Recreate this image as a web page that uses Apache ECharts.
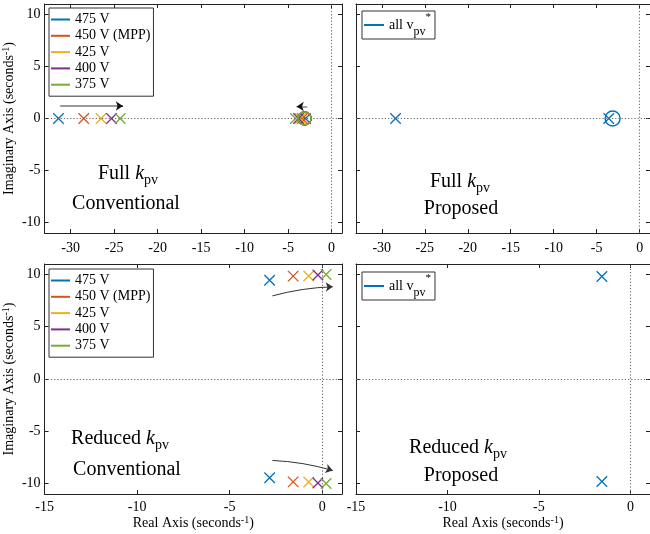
<!DOCTYPE html>
<html>
<head>
<meta charset="utf-8">
<script src="https://cdn.jsdelivr.net/npm/echarts@6/dist/echarts.min.js"></script>
<style>
  html, body { margin: 0; padding: 0; background: #fff; }
  #chart { width: 650px; height: 534px; }
</style>
</head>
<body>
<div id="chart"></div>
<script>
// Pole-zero maps of the PV voltage loop, full vs reduced gain, conventional vs proposed control

const voltages = ['475 V', '450 V (MPP)', '425 V', '400 V', '375 V'];
const palette = ['#0072BD', '#D95319', '#EDB120', '#7E2F8E', '#77AC30'];
const proposedName = 'all v_pv*';

// Full k_pv, conventional: two real poles and one real zero per operating voltage
const fullConvFastPole = [-31.4, -28.5, -26.5, -25.3, -24.3];
const fullConvSlowPole = [-3.0, -3.35, -3.6, -3.8, -4.15];
const fullConvZero     = [-3.1, -3.1, -3.1, -3.1, -3.1];
const fullConvImag     = [0, 0, 0, 0, 0];

// Full k_pv, proposed: identical for every voltage
const fullPropPoles = [-28.4, -3.6];
const fullPropZero  = [-3.15];

// Reduced k_pv, conventional: complex pole pairs (real, +imag)
const redConvRe = [-2.84, -1.57, -0.73, -0.23, 0.21];
const redConvIm = [9.45, 9.84, 9.85, 9.95, 10.0];

// Reduced k_pv, proposed: one complex pair
const redPropRe = [-1.56];
const redPropIm = [9.8];

// Tick labels
const xTicksFull = [-30, -25, -20, -15, -10, -5, 0];
const xTicksReduced = [-15, -10, -5, 0];
const yTicks = [-10, -5, 0, 5, 10];

// Trend arrows (start, end) in axis units
const arrowFastPoles = [[-31.2, 1.2], [-24.0, 1.2]];
const arrowSlowPoles = [[-2.8, 1.15], [-4.0, 1.15]];
const arrowUpperPair = [[-2.69, 7.95], [0.57, 8.82]];
const arrowLowerPair = [[-2.69, -7.79], [0.57, -8.75]];

const SERIF = 'Liberation Serif, Times New Roman, serif';
const CROSS = 'path://M0,0L10,10M10,0L0,10';

const grids = [
  { left: 42, top: 4, width: 300, height: 229 },
  { left: 356, top: 4, width: 300, height: 229 },
  { left: 42, top: 264, width: 300, height: 230 },
  { left: 356, top: 264, width: 300, height: 230 }
];
const xRanges = [[-33, 1.2], [-33, 1.2], [-15, 1.07], [-15, 1.07]];
const xTickSets = [xTicksFull, xTicksFull, xTicksReduced, xTicksReduced];

const supRich = {
  sup: { fontSize: 10, fontFamily: SERIF, color: '#000', verticalAlign: 'top', lineHeight: 17 }
};

const xAxes = [];
const yAxes = [];
grids.forEach((g, i) => {
  const ticks = xTickSets[i];
  const base = {
    gridIndex: i, type: 'value', min: xRanges[i][0], max: xRanges[i][1],
    splitLine: { show: false },
    axisLine: { show: true, onZero: false, lineStyle: { color: '#222', width: 1 } },
    axisTick: { show: true, inside: true, length: 4, customValues: ticks, lineStyle: { color: '#222' } }
  };
  xAxes.push(Object.assign({}, base, {
    position: 'bottom',
    axisLabel: { show: true, customValues: ticks, margin: i < 2 ? 8 : 6,
      fontFamily: SERIF, fontSize: 14, color: '#000' },
    name: i >= 2 ? 'Real Axis (seconds{sup|-1})' : '',
    nameLocation: 'middle', nameGap: 19,
    nameTextStyle: { fontFamily: SERIF, fontSize: 14, color: '#000', lineHeight: 17, rich: supRich }
  }));
  xAxes.push(Object.assign({}, base, {
    position: 'top', axisLabel: { show: false }
  }));
  const ybase = {
    gridIndex: i, type: 'value', min: -11, max: 11,
    splitLine: { show: false },
    axisLine: { show: true, onZero: false, lineStyle: { color: '#222', width: 1 } },
    axisTick: { show: true, inside: true, length: 4, customValues: yTicks, lineStyle: { color: '#222' } }
  };
  const leftCol = (i % 2 === 0);
  yAxes.push(Object.assign({}, ybase, {
    position: 'left',
    axisLabel: { show: leftCol, customValues: yTicks, margin: 4,
      fontFamily: SERIF, fontSize: 14, color: '#000' },
    name: leftCol ? 'Imaginary Axis (seconds{sup|-1})' : '',
    nameLocation: 'middle', nameRotate: 90, nameGap: 19,
    nameTextStyle: { fontFamily: SERIF, fontSize: 14, color: '#000', lineHeight: 17, rich: supRich }
  }));
  yAxes.push(Object.assign({}, ybase, {
    position: 'right', axisLabel: { show: false }
  }));
});

const zeroLines = {
  silent: true, symbol: ['none', 'none'], animation: false,
  label: { show: false },
  lineStyle: { color: '#666', width: 1, type: [1.2, 2] },
  data: [{ xAxis: 0 }, { yAxis: 0 }]
};

function crossSeries(name, color, pts, g, withLines) {
  const s = {
    type: 'scatter', name: name, xAxisIndex: 2 * g, yAxisIndex: 2 * g,
    symbol: CROSS, symbolSize: 10.5, data: pts, z: 4,
    itemStyle: { color: color, borderColor: color, borderWidth: 1.3, opacity: 1 },
    animation: false, silent: true
  };
  if (withLines) s.markLine = zeroLines;
  return s;
}
function zeroSeries(name, color, pts, g, size) {
  return {
    type: 'scatter', name: name, xAxisIndex: 2 * g, yAxisIndex: 2 * g,
    symbol: 'circle', symbolSize: size, data: pts, z: 5,
    itemStyle: { color: 'rgba(0,0,0,0)', borderColor: color, borderWidth: 1.4, opacity: 1 },
    animation: false, silent: true
  };
}
function arrowSeries(g, coords, color, width, curveness, withHead) {
  return {
    type: 'lines', coordinateSystem: 'cartesian2d', xAxisIndex: 2 * g, yAxisIndex: 2 * g,
    symbol: withHead ? ['none', 'arrow'] : ['none', 'none'], symbolSize: 7,
    lineStyle: { color: color, width: width, curveness: curveness, opacity: 1 },
    data: [{ coords: coords }], z: 3, silent: true, animation: false
  };
}
function headOf(arrow, frac) {
  const [a, b] = arrow;
  return [[b[0] - (b[0] - a[0]) * frac, b[1] - (b[1] - a[1]) * frac], b];
}

const series = [];
// panel 0: full gain, conventional
voltages.forEach((v, k) => {
  series.push(crossSeries(v, palette[k],
    [[fullConvFastPole[k], fullConvImag[k]], [fullConvSlowPole[k], fullConvImag[k]]], 0, k === 0));
});
voltages.forEach((v, k) => {
  series.push(zeroSeries(v, palette[k], [[fullConvZero[k], fullConvImag[k]]], 0, 13));
});
series.push(arrowSeries(0, arrowFastPoles, '#9a9a9a', 1.8, 0, false));
series.push(arrowSeries(0, headOf(arrowFastPoles, 0.08), '#111', 1.2, 0, true));
series.push(arrowSeries(0, arrowSlowPoles, '#9a9a9a', 1.8, 0, false));
series.push(arrowSeries(0, headOf(arrowSlowPoles, 0.4), '#111', 1.2, 0, true));

// panel 1: full gain, proposed
series.push(crossSeries(proposedName, palette[0], fullPropPoles.map(p => [p, 0]), 1, true));
series.push(zeroSeries(proposedName, palette[0], fullPropZero.map(z => [z, 0]), 1, 15));

// panel 2: reduced gain, conventional
voltages.forEach((v, k) => {
  series.push(crossSeries(v, palette[k],
    [[redConvRe[k], redConvIm[k]], [redConvRe[k], -redConvIm[k]]], 2, k === 0));
});
series.push(arrowSeries(2, arrowUpperPair, '#333', 1, 0.06, true));
series.push(arrowSeries(2, arrowLowerPair, '#333', 1, 0.06, true));

// panel 3: reduced gain, proposed
series.push(crossSeries(proposedName, palette[0],
  redPropRe.map((r, k) => [r, redPropIm[k]]).concat(redPropRe.map((r, k) => [r, -redPropIm[k]])), 3, true));

const legendText = { fontFamily: SERIF, fontSize: 14, color: '#000', lineHeight: 15 };
function voltageLegend(top) {
  return {
    data: voltages, orient: 'vertical', left: 49, top: top,
    icon: 'rect', itemWidth: 19, itemHeight: 2, itemGap: 1.3,
    padding: [4, 3, 4, 2], borderColor: '#333', borderWidth: 1, backgroundColor: '#fff',
    itemStyle: { borderWidth: 0 }, textStyle: legendText, selectedMode: false
  };
}
function proposedLegend(top) {
  return {
    data: [proposedName], orient: 'vertical', left: 362, top: top,
    icon: 'rect', itemWidth: 20, itemHeight: 2,
    padding: [1, 4, 1, 2], borderColor: '#333', borderWidth: 1, backgroundColor: '#fff',
    itemStyle: { borderWidth: 0 }, selectedMode: false,
    formatter: () => 'all v{sub|pv}{sup|*}',
    textStyle: {
      fontFamily: SERIF, fontSize: 14, color: '#000', lineHeight: 26,
      rich: {
        sub: { fontFamily: SERIF, fontSize: 12, color: '#000', verticalAlign: 'bottom', lineHeight: 12 },
        sup: { fontFamily: SERIF, fontSize: 11, color: '#000', verticalAlign: 'top', lineHeight: 12 }
      }
    }
  };
}

const annoRich = {
  n: { fontFamily: SERIF, fontSize: 20, color: '#111', lineHeight: 26 },
  k: { fontFamily: SERIF, fontSize: 20, fontStyle: 'italic', color: '#111', lineHeight: 26 },
  s: { fontFamily: SERIF, fontSize: 14, color: '#111', verticalAlign: 'bottom', lineHeight: 18 }
};
function anno(x, y, text) {
  return {
    type: 'text', x: x, y: y, silent: true,
    style: { text: text, rich: annoRich, align: 'center', verticalAlign: 'middle' }
  };
}
const annotations = [
  anno(128, 174, '{n|Full }{k|k}{s|pv}'), anno(126, 204, '{n|Conventional}'),
  anno(460, 182, '{n|Full }{k|k}{s|pv}'), anno(461, 209, '{n|Proposed}'),
  anno(120, 439, '{n|Reduced }{k|k}{s|pv}'), anno(127, 470, '{n|Conventional}'),
  anno(458, 448, '{n|Reduced }{k|k}{s|pv}'), anno(461, 476, '{n|Proposed}')
];

const chart = echarts.init(document.getElementById('chart'), null, { renderer: 'canvas' });
chart.setOption({
  animation: false,
  backgroundColor: '#fff',
  grid: grids.map(g => Object.assign({ containLabel: false }, g)),
  xAxis: xAxes,
  yAxis: yAxes,
  legend: [voltageLegend(8), proposedLegend(11), voltageLegend(269), proposedLegend(272)],
  series: series,
  graphic: annotations
});
</script>
</body>
</html>
